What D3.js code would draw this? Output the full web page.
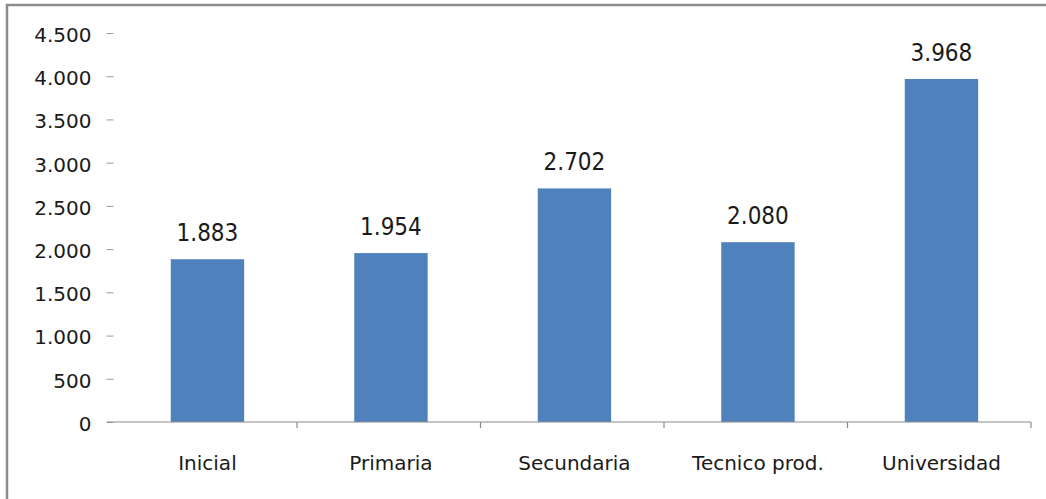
<!DOCTYPE html>
<html>
<head>
<meta charset="utf-8">
<script src="https://cdn.jsdelivr.net/npm/d3@7"></script>
<style>
  body { margin: 0; background: #fff; }
  svg { display: block; }
</style>
</head>
<body>
<div id="chart"></div>
<script>
// data
const categories = ["Inicial", "Primaria", "Secundaria", "Tecnico prod.", "Universidad"];
const values = [1883, 1954, 2702, 2080, 3968];
const yTicks = [0, 500, 1000, 1500, 2000, 2500, 3000, 3500, 4000, 4500];

const W = 1046, H = 499;
const plot = {left: 113.5, right: 1031, top: 33, bottom: 422};

const svg = d3.select("#chart").append("svg")
    .attr("width", W)
    .attr("height", H);

// outer frame (only left and top edges are inside the picture)
svg.append("path")
    .attr("d", `M7,${H + 5} V5 H${W + 5}`)
    .attr("fill", "none")
    .attr("stroke", "#8c8c8c")
    .attr("stroke-width", 2.5);

const locale = d3.formatLocale({decimal: ",", thousands: ".", grouping: [3], currency: ["", ""]});
const fmt = locale.format(",d");

const x = d3.scaleBand()
    .domain(categories)
    .range([plot.left, plot.right])
    .paddingInner(0.6)
    .paddingOuter(0.3)
    .align(0.52);

const y = d3.scaleLinear()
    .domain([0, 4500])
    .range([plot.bottom, plot.top]);

// y axis: labels and little dashes, no line
const yAxis = svg.append("g")
    .attr("transform", `translate(${plot.left},0)`)
    .call(d3.axisLeft(y).tickValues(yTicks).tickFormat(fmt).tickSize(7).tickPadding(15));
yAxis.select(".domain").remove();
yAxis.selectAll(".tick line").attr("stroke", "#9a9a9a");
yAxis.selectAll(".tick text")
    .attr("fill", "#1a1a1a")
    .attr("dy", "0.42em")
    .style("font-family", "'DejaVu Sans', sans-serif")
    .style("font-size", "20px");

// bars
svg.append("g")
    .selectAll("rect")
    .data(values)
    .enter().append("rect")
    .attr("x", (d, i) => x(categories[i]))
    .attr("y", d => y(d))
    .attr("width", x.bandwidth())
    .attr("height", d => y(0) - y(d))
    .attr("fill", "#4f81bd");

// value labels
svg.append("g")
    .selectAll("text")
    .data(values)
    .enter().append("text")
    .attr("x", (d, i) => x(categories[i]) + x.bandwidth() / 2)
    .attr("y", d => y(d) - 18)
    .attr("text-anchor", "middle")
    .style("font-family", "'DejaVu Sans Condensed', 'DejaVu Sans', sans-serif")
    .style("font-stretch", "condensed")
    .style("font-size", "24px")
    .attr("fill", "#1a1a1a")
    .text(d => fmt(d));

// x axis line with ticks between categories
svg.append("line")
    .attr("x1", 107).attr("x2", plot.right)
    .attr("y1", plot.bottom).attr("y2", plot.bottom)
    .attr("stroke", "#8c8c8c")
    .attr("stroke-width", 1.2);

const step = x.step();
svg.append("g")
    .selectAll("line")
    .data(d3.range(1, categories.length + 1))
    .enter().append("line")
    .attr("x1", i => plot.left + i * step)
    .attr("x2", i => plot.left + i * step)
    .attr("y1", plot.bottom)
    .attr("y2", plot.bottom + 6)
    .attr("stroke", "#8c8c8c")
    .attr("stroke-width", 1.2);

// category labels
svg.append("g")
    .selectAll("text")
    .data(categories)
    .enter().append("text")
    .attr("x", d => x(d) + x.bandwidth() / 2)
    .attr("y", 470)
    .attr("text-anchor", "middle")
    .style("font-family", "'DejaVu Sans', sans-serif")
    .style("font-size", "20px")
    .attr("fill", "#1a1a1a")
    .text(d => d);
</script>
</body>
</html>
